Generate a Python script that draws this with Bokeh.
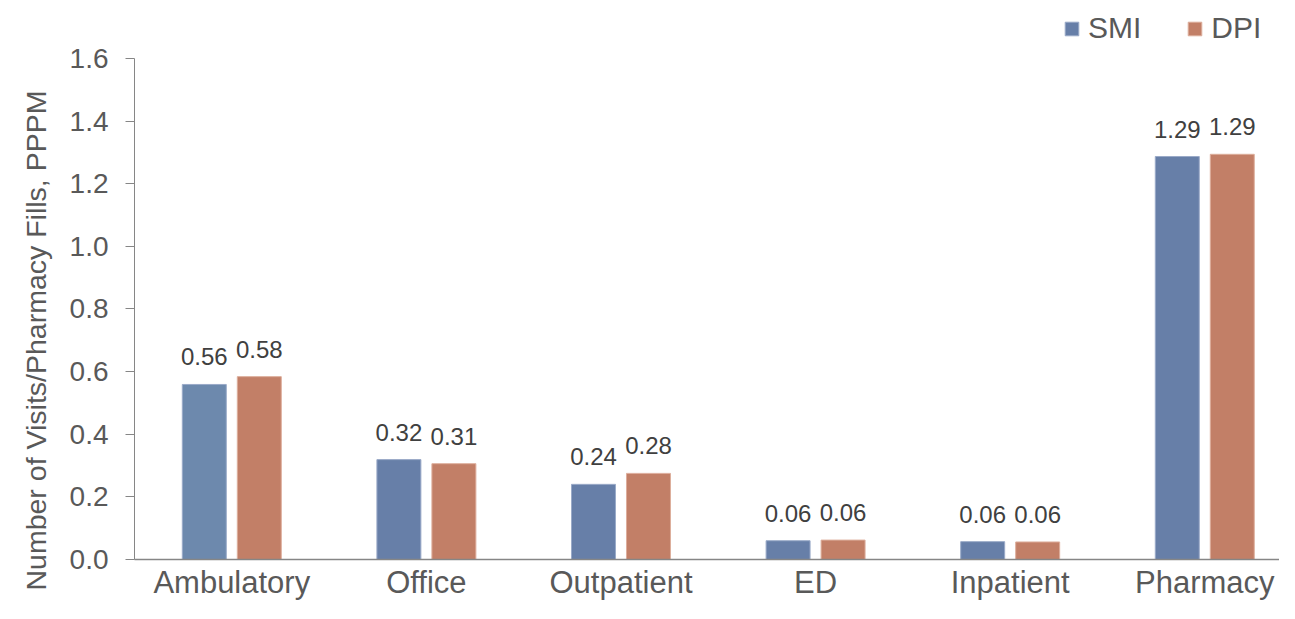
import numpy as np
from bokeh.plotting import figure
from bokeh.models import (ColumnDataSource, Range1d, FixedTicker, LabelSet, Title,
                          Legend, LegendItem)
from bokeh.core.properties import value
from bokeh.embed import file_html
from bokeh.resources import INLINE

categories = ["Ambulatory", "Office", "Outpatient", "ED", "Inpatient", "Pharmacy"]
smi = [0.56, 0.32, 0.24, 0.06, 0.06, 1.29]
dpi = [0.58, 0.31, 0.28, 0.06, 0.06, 1.29]
smi_heights = [0.559, 0.319, 0.240, 0.060, 0.057, 1.287]
dpi_heights = [0.584, 0.306, 0.275, 0.062, 0.056, 1.294]
smi_colors = ["#6D89AD", "#677FA8", "#677FA8", "#677FA8", "#677FA8", "#677FA8"]
y_ticks = [0.0, 0.2, 0.4, 0.6, 0.8, 1.0, 1.2, 1.4, 1.6]

FONT = "Liberation Sans"
idx = np.arange(len(categories))
offset = 0.1413
bw = 0.226

p = figure(width=1279, height=603, output_backend="svg", toolbar_location=None,
           x_range=Range1d(-0.5, 5.384), y_range=Range1d(0, 1.7852),
           min_border_left=134, min_border_right=0, min_border_top=0,
           min_border_bottom=44)
p.outline_line_color = None
p.xgrid.visible = False
p.ygrid.visible = False
p.background_fill_color = "white"

smi_src = ColumnDataSource(dict(x=idx - offset, top=smi_heights, color=smi_colors,
                                label=[f"{v:.2f}" for v in smi]))
dpi_src = ColumnDataSource(dict(x=idx + offset, top=dpi_heights,
                                label=[f"{v:.2f}" for v in dpi]))

r_smi = p.vbar(x="x", top="top", width=bw, source=smi_src, fill_color="color",
               line_color="#9AAAC8", line_width=1)
r_dpi = p.vbar(x="x", top="top", width=bw, source=dpi_src, fill_color="#C27F67",
               line_color="#DDAE9C", line_width=1)

for src in (smi_src, dpi_src):
    p.add_layout(LabelSet(x="x", y="top", text="label", source=src, y_offset=19,
                          text_align="center", text_baseline="alphabetic",
                          text_font=value(FONT), text_font_size="24px",
                          text_color="#404040"))

# axes
p.xaxis.ticker = FixedTicker(ticks=list(idx))
p.xaxis.major_label_overrides = {int(i): c for i, c in zip(idx, categories)}
p.xaxis.major_tick_line_color = None
p.xaxis.minor_tick_line_color = None
p.xaxis.axis_line_color = "#868686"
p.xaxis.axis_line_width = 1.5
p.xaxis.major_label_text_font = FONT
p.xaxis.major_label_text_font_size = "31px"
p.xaxis.major_label_text_color = "#595959"
p.xaxis.major_label_standoff = -1

p.yaxis.ticker = FixedTicker(ticks=y_ticks)
p.yaxis.bounds = (0, 1.6)
p.yaxis.major_label_overrides = {t: f"{t:.1f}" for t in y_ticks}
p.yaxis.minor_tick_line_color = None
p.yaxis.major_tick_in = 0
p.yaxis.major_tick_out = 9
p.yaxis.major_tick_line_color = "#868686"
p.yaxis.axis_line_color = "#868686"
p.yaxis.major_label_text_font = FONT
p.yaxis.major_label_text_font_size = "28px"
p.yaxis.major_label_text_color = "#595959"
p.yaxis.major_label_standoff = 17

p.add_layout(Title(text="Number of Visits/Pharmacy Fills, PPPM", align="left",
                   offset=-31, standoff=29, text_font=FONT, text_font_size="28.5px",
                   text_font_style="normal", text_color="#595959"), "left")

legend = Legend(items=[LegendItem(label="SMI", renderers=[r_smi], index=1),
                       LegendItem(label="DPI", renderers=[r_dpi])],
                orientation="horizontal", location=(929, 514),
                glyph_width=17, glyph_height=17, label_standoff=8, spacing=45,
                padding=0, margin=0, border_line_color=None,
                background_fill_alpha=0, label_text_font=FONT,
                label_text_font_size="30px", label_text_color="#595959")
p.add_layout(legend, "center")

open("out.html", "w").write(file_html(p, INLINE))
